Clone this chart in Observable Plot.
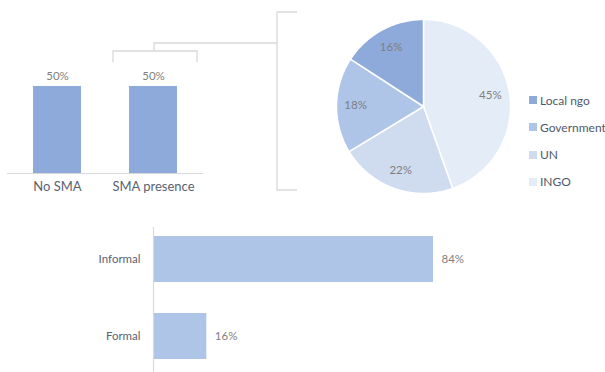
<!DOCTYPE html>
<html><head><meta charset="utf-8">
<script src="https://cdn.jsdelivr.net/npm/d3@7"></script>
<script src="https://cdn.jsdelivr.net/npm/@observablehq/plot@0.6"></script>
<style>
html,body{margin:0;padding:0;background:#fff;}
#root{position:relative;width:605px;height:372px;overflow:hidden;font-family:Lato,"Open Sans",sans-serif;}
#root > *{position:absolute;}
.lg{position:absolute;display:flex;align-items:center;font-size:12px;color:#4f5969;white-space:nowrap;}
.lg span.sw{display:inline-block;width:8px;height:8px;margin-right:3px;}
</style></head><body><div id="root"></div>
<script>
// ---- data ----
const smaCategories = ["No SMA", "SMA presence"];
const smaValues = [50, 50];

const actorCategories = ["INGO", "UN", "Government", "Local ngo"];
const actorValues = [45, 22, 18, 16];
const actorColors = ["#e4ecf7", "#cfdcef", "#aec5e8", "#8eaadb"];
const legendOrder = ["Local ngo", "Government", "UN", "INGO"];

const typeCategories = ["Informal", "Formal"];
const typeValues = [84, 16];

// ---- build ----
const FONT = 'Lato, "Open Sans", sans-serif';
const root = document.getElementById("root");
const labelGray = "#7f7f7f";
const catColor = "#5a6272";

const smaData = smaCategories.map((c, i) => ({cat: c, value: smaValues[i]}));
const actorData = actorCategories.map((c, i) => ({cat: c, value: actorValues[i]}));
const typeData = typeCategories.map((c, i) => ({cat: c, value: typeValues[i]}));

// Top-left bar chart
const p1 = Plot.plot({
  width: 203, height: 200,
  marginLeft: 7, marginRight: 0, marginTop: 0, marginBottom: 27,
  style: {fontFamily: FONT, overflow: "visible", background: "transparent"},
  x: {domain: smaCategories, paddingInner: 0.495, paddingOuter: 0.258, label: null},
  y: {domain: [0, 99.4], axis: null},
  marks: [
    Plot.barY(smaData, {x: "cat", y: "value", fill: "#8eaadb"}),
    Plot.ruleY([0], {stroke: "#d9d9d9", strokeWidth: 1.2}),
    Plot.text(smaData, {x: "cat", y: "value", text: d => d.value + "%", dy: -10, fill: labelGray, fontSize: 11.5}),
    Plot.axisX({tickSize: 0, tickPadding: 8, fontSize: 13, color: catColor, label: null})
  ]
});
p1.style.left = "0px"; p1.style.top = "0px";
root.appendChild(p1);

// Pie chart
const arcs = d3.pie().sort(null).value(d => d.value)(actorData);
function wedge(a0, a1) {
  const pts = [[0, 0]];
  const n = Math.max(2, Math.ceil((a1 - a0) / 0.01));
  for (let i = 0; i <= n; i++) {
    const a = a0 + (a1 - a0) * i / n;
    pts.push([Math.sin(a), -Math.cos(a)]);
  }
  pts.push([0, 0]);
  return pts;
}
const wedges = arcs.map(a => ({type: "Feature", properties: {cat: a.data.cat}, geometry: {type: "Polygon", coordinates: [wedge(a.startAngle, a.endAngle)]}}));
const circle = {type: "Polygon", coordinates: [d3.range(0, 361, 2).map(t => [Math.sin(t * Math.PI / 180), -Math.cos(t * Math.PI / 180)])]};
const pieLabels = arcs.map(a => {
  const m = (a.startAngle + a.endAngle) / 2;
  return {x: 0.78 * Math.sin(m), y: -0.78 * Math.cos(m), text: a.data.value + "%"};
});
const p2 = Plot.plot({
  width: 174, height: 174, margin: 0,
  style: {fontFamily: FONT, overflow: "visible", background: "transparent"},
  projection: {type: "identity", domain: circle},
  color: {domain: actorCategories, range: actorColors},
  marks: [
    Plot.geo(wedges, {fill: d => d.properties.cat, stroke: "white", strokeWidth: 1.5}),
    Plot.text(pieLabels, {x: "x", y: "y", text: "text", fill: labelGray, fontSize: 11.5})
  ]
});
p2.style.left = "335.5px"; p2.style.top = "19px";
root.appendChild(p2);

// Legend
legendOrder.forEach((c, i) => {
  const d = document.createElement("div");
  d.className = "lg";
  d.style.left = "529px";
  d.style.top = (100 + i * 27.3 - 8) + "px";
  d.style.height = "16px";
  const sw = document.createElement("span");
  sw.className = "sw";
  sw.style.background = actorColors[actorCategories.indexOf(c)];
  d.appendChild(sw);
  d.appendChild(document.createTextNode(c));
  root.appendChild(d);
});

// Bottom horizontal bars
const p3 = Plot.plot({
  width: 605, height: 152,
  marginLeft: 153, marginRight: 118.7, marginTop: 7, marginBottom: 0,
  style: {fontFamily: FONT, overflow: "visible", background: "transparent"},
  x: {domain: [0, 100], axis: null},
  y: {domain: typeCategories, paddingInner: 0.404, paddingOuter: 0.1315, align: 0.39, label: null},
  marks: [
    Plot.barX(typeData, {y: "cat", x: "value", fill: "#aec5e8"}),
    Plot.ruleX([0], {stroke: "#d9d9d9", strokeWidth: 1.2}),
    Plot.text(typeData, {y: "cat", x: "value", text: d => d.value + "%", textAnchor: "start", dx: 8, fill: labelGray, fontSize: 11.5}),
    Plot.axisY({tickSize: 0, tickPadding: 13, fontSize: 11.5, color: catColor, label: null})
  ]
});
p3.style.left = "0px"; p3.style.top = "220px";
root.appendChild(p3);

// Connector brackets (decoration)
const svg = d3.select(root).append("svg")
  .attr("width", 605).attr("height", 372)
  .style("left", "0px").style("top", "0px").style("pointer-events", "none");
const conn = svg.append("g").attr("fill", "none").attr("stroke", "#d9d9d9").attr("stroke-width", 1.3);
conn.append("path").attr("d", "M113,62V51H197V62");
conn.append("path").attr("d", "M154,51V43H277");
conn.append("path").attr("d", "M297,12H277V190H297");
</script></body></html>
